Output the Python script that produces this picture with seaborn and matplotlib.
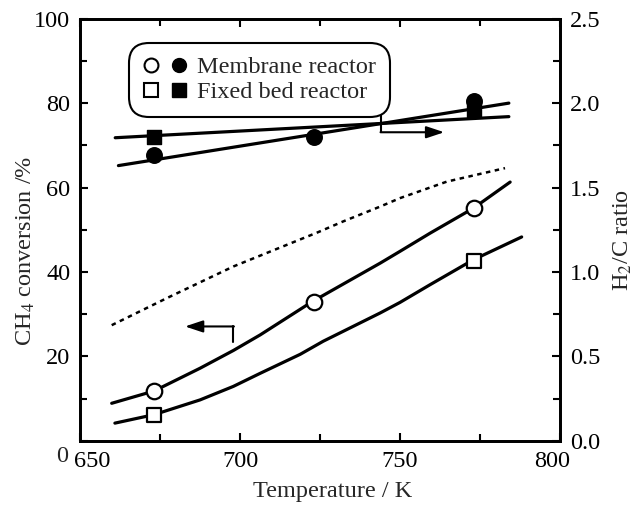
import matplotlib
matplotlib.use("Agg")
import matplotlib.pyplot as plt
import matplotlib.transforms as mtransforms
import seaborn as sns
from matplotlib.lines import Line2D
from matplotlib.legend_handler import HandlerTuple
from matplotlib.ticker import MultipleLocator

# ---- data ----
point_T = [673, 723, 773]
mem_conv = [11.8, 33.0, 55.1]          # open circles (left axis, %)
fix_T = [673, 773]
fix_conv = [6.2, 42.6]                 # open squares (left axis, %)
mem_ratio = [1.69, 1.80, 2.01]         # filled circles (right axis)
fix_ratio = [1.80, 1.96]               # filled squares (right axis)

mem_curve_T = [659.9, 673.1, 687.5, 697.9, 706.3, 722.6, 743.8, 750.0, 759.4, 772.9, 784.4]
mem_curve = [8.9, 11.8, 17.2, 21.4, 25.1, 33.0, 42.1, 44.9, 49.2, 55.1, 61.3]
fix_curve_T = [660.9, 673.1, 687.5, 697.9, 706.3, 718.8, 726.0, 743.8, 750.0, 759.4, 772.9, 788.0]
fix_curve = [4.2, 6.2, 9.7, 12.9, 16.0, 20.5, 23.6, 30.3, 32.8, 37.0, 42.9, 48.3]
eq_curve_T = [659.9, 677.1, 697.9, 724.3, 732.3, 743.8, 750.0, 764.6, 782.8]
eq_curve = [27.4, 33.8, 41.3, 49.4, 52.0, 55.5, 57.5, 61.4, 64.6]

mem_ratio_line_T = [662, 784]
mem_ratio_line = [1.63, 2.00]
fix_ratio_line_T = [661, 784]
fix_ratio_line = [1.795, 1.92]

x_ticks = [650, 700, 750, 800]
left_ticks = [0, 20, 40, 60, 80, 100]
right_ticks = [0.0, 0.5, 1.0, 1.5, 2.0, 2.5]

# ---- style ----
sns.set_theme(style="ticks")
plt.rcParams["font.family"] = ["Liberation Serif", "DejaVu Serif"]
plt.rcParams["mathtext.fontset"] = "stix"
FS = 17.5

fig = plt.figure(figsize=(6.35, 5.05), dpi=100)
ax = fig.add_axes([0.126, 0.127, 0.756, 0.836])
ax2 = ax.twinx()

lw = 2.3
sns.lineplot(x=mem_curve_T, y=mem_curve, ax=ax, color="black", lw=lw, sort=False)
sns.lineplot(x=fix_curve_T, y=fix_curve, ax=ax, color="black", lw=lw, sort=False)
sns.lineplot(x=eq_curve_T, y=eq_curve, ax=ax, color="black", lw=1.8, sort=False,
             linestyle=(0, (1.8, 1.8)))
sns.scatterplot(x=point_T, y=mem_conv, ax=ax, marker="o", s=125,
                facecolor="white", edgecolor="black", linewidth=1.6, zorder=5)
sns.scatterplot(x=fix_T, y=fix_conv, ax=ax, marker="s", s=115,
                facecolor="white", edgecolor="black", linewidth=1.6, zorder=5)

sns.lineplot(x=mem_ratio_line_T, y=mem_ratio_line, ax=ax2, color="black", lw=lw, sort=False)
sns.lineplot(x=fix_ratio_line_T, y=fix_ratio_line, ax=ax2, color="black", lw=lw, sort=False)
sns.scatterplot(x=point_T, y=mem_ratio, ax=ax2, marker="o", s=125,
                color="black", edgecolor="black", linewidth=1.0, zorder=5)
sns.scatterplot(x=fix_T, y=fix_ratio, ax=ax2, marker="s", s=115,
                color="black", edgecolor="black", linewidth=1.0, zorder=5)

# axes limits & ticks
ax.set_xlim(650, 800)
ax.set_ylim(0, 100)
ax2.set_ylim(0, 2.5)
ax.set_xticks(x_ticks)
ax.set_xticklabels([str(t) for t in x_ticks], fontsize=FS)
ax.xaxis.set_minor_locator(MultipleLocator(25))
ax.set_yticks(left_ticks)
ax.set_yticklabels([""] + [str(t) for t in left_ticks[1:]], fontsize=FS)
ax.yaxis.set_minor_locator(MultipleLocator(10))
ax2.set_yticks(right_ticks)
ax2.set_yticklabels([f"{t:.1f}" for t in right_ticks], fontsize=FS)
ax2.yaxis.set_minor_locator(MultipleLocator(0.25))

for a in (ax, ax2):
    a.tick_params(which="both", direction="in", width=1.5, colors="black", pad=7)
    a.tick_params(which="major", length=6)
    a.tick_params(which="minor", length=5)
    for s in a.spines.values():
        s.set_visible(True)
        s.set_linewidth(2.0)
        s.set_color("black")
ax.tick_params(which="both", top=True, right=False)
ax2.tick_params(which="both", left=False, right=True, top=False, bottom=False)

# shift end x tick labels inward as in the reference
xl = ax.get_xticklabels()
xl[0].set_transform(xl[0].get_transform() + mtransforms.ScaledTranslation(0.12, 0, fig.dpi_scale_trans))
xl[-1].set_transform(xl[-1].get_transform() + mtransforms.ScaledTranslation(-0.08, 0, fig.dpi_scale_trans))

ax.text(-0.038, -0.036, "0", transform=ax.transAxes, ha="center", va="center", fontsize=FS)

ax.set_xlabel("Temperature / K", fontsize=FS)
ax.xaxis.set_label_coords(0.527, -0.095)
ax.set_ylabel(r"CH$_4$ conversion /%", fontsize=FS)
ax.yaxis.set_label_coords(-0.09, 0.45)
ax2.set_ylabel(r"H$_2$/C ratio", fontsize=FS)
ax2.yaxis.set_label_coords(1.108, 0.475)

# indicator arrows
ax.plot([697.9, 697.9], [23.5, 27.1], color="black", lw=1.5)
ax.annotate("", xy=(682.8, 27.1), xytext=(697.9 + 0.2, 27.1),
            arrowprops=dict(arrowstyle="-|>,head_length=0.9,head_width=0.3",
                            color="black", lw=1.5, shrinkA=0, shrinkB=0))
ax2.plot([744.1, 744.1], [77.3 / 40, 73.1 / 40], color="black", lw=1.5)
ax2.annotate("", xy=(763.8, 73.1 / 40), xytext=(744.1 - 0.2, 73.1 / 40),
             arrowprops=dict(arrowstyle="-|>,head_length=0.9,head_width=0.3",
                             color="black", lw=1.5, shrinkA=0, shrinkB=0))

# legend
oc = Line2D([], [], ls="none", marker="o", ms=10, mfc="white", mec="black", mew=1.5)
fc = Line2D([], [], ls="none", marker="o", ms=10, mfc="black", mec="black")
os_ = Line2D([], [], ls="none", marker="s", ms=10, mfc="white", mec="black", mew=1.5)
fs_ = Line2D([], [], ls="none", marker="s", ms=10, mfc="black", mec="black")
leg = ax2.legend([(oc, fc), (os_, fs_)], ["Membrane reactor", "Fixed bed reactor"],
                 handler_map={tuple: HandlerTuple(ndivide=None, pad=0.5)},
                 loc="upper left", bbox_to_anchor=(0.118, 0.925), borderaxespad=0,
                 fontsize=FS, frameon=True, fancybox=True, handlelength=1.8,
                 handletextpad=0.45, labelspacing=0.12, borderpad=0.25)
fr = leg.get_frame()
fr.set_edgecolor("black")
fr.set_linewidth(1.5)
fr.set_alpha(1)
fr.set_boxstyle("round,pad=0.3,rounding_size=0.8")

fig.savefig("out.png", dpi=100)
